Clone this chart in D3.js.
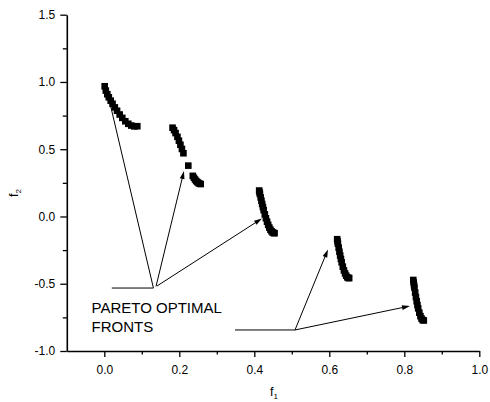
<!DOCTYPE html>
<html>
<head>
<meta charset="utf-8">
<script src="https://cdn.jsdelivr.net/npm/d3@7"></script>
<style>
  html, body { margin: 0; padding: 0; background: #fff; }
  svg { display: block; }
  text { font-family: "Liberation Sans", Arial, Helvetica, sans-serif; fill: #000; }
</style>
</head>
<body>
<svg id="chart" width="490" height="402"></svg>
<script>
// Pareto optimal fronts, one array per disconnected region: [f1, f2]
const front1 = [
  [0.001, 0.968], [0.004, 0.936], [0.008, 0.909], [0.012, 0.886], [0.017, 0.861],
  [0.022, 0.838], [0.028, 0.811], [0.034, 0.786], [0.041, 0.758], [0.048, 0.733],
  [0.056, 0.708], [0.064, 0.689], [0.072, 0.676], [0.080, 0.670], [0.088, 0.671]
];
const front2 = [
  [0.182, 0.660], [0.186, 0.642], [0.190, 0.620], [0.195, 0.592], [0.199, 0.563],
  [0.203, 0.533], [0.207, 0.502], [0.211, 0.470],
  [0.224, 0.378],
  [0.236, 0.302], [0.239, 0.288], [0.242, 0.275], [0.245, 0.264], [0.248, 0.256],
  [0.251, 0.249], [0.254, 0.244], [0.257, 0.241]
];
const front3 = [
  [0.413, 0.193], [0.414, 0.180], [0.415, 0.167], [0.417, 0.142], [0.419, 0.117],
  [0.421, 0.093], [0.423, 0.070], [0.425, 0.047], [0.428, 0.016], [0.431, -0.013],
  [0.434, -0.039], [0.437, -0.062], [0.440, -0.082], [0.443, -0.098], [0.446, -0.110],
  [0.449, -0.119], [0.452, -0.123], [0.454, -0.124]
];
const front4 = [
  [0.621, -0.169], [0.622, -0.185], [0.623, -0.202], [0.625, -0.232], [0.627, -0.262],
  [0.629, -0.290], [0.631, -0.316], [0.633, -0.341], [0.636, -0.373], [0.639, -0.401],
  [0.642, -0.423], [0.645, -0.440], [0.648, -0.452], [0.651, -0.457], [0.653, -0.458]
];
const front5 = [
  [0.824, -0.472], [0.825, -0.491], [0.826, -0.511], [0.827, -0.529], [0.829, -0.566],
  [0.831, -0.599], [0.833, -0.630], [0.835, -0.658], [0.837, -0.683], [0.840, -0.715],
  [0.843, -0.741], [0.846, -0.759], [0.849, -0.770], [0.852, -0.773]
];
const fronts = [front1, front2, front3, front4, front5];

// Axis ticks
const xMajorTicks = [0.0, 0.2, 0.4, 0.6, 0.8, 1.0];
const xMinorTicks = [0.1, 0.3, 0.5, 0.7, 0.9];
const yMajorTicks = [-1.0, -0.5, 0.0, 0.5, 1.0, 1.5];
const yMinorTicks = [-0.75, -0.25, 0.25, 0.75, 1.25];

// Annotation leader lines in data units: [from, to, arrowhead]
const leaders = [
  [[0.020, -0.532], [0.131, -0.532], false],
  [[0.131, -0.532], [0.0112, 0.888], false],
  [[0.1379, -0.520], [0.2125, 0.3382], true],
  [[0.1405, -0.5167], [0.4205, -0.0149], true],
  [[0.3485, -0.8437], [0.5085, -0.8437], false],
  [[0.5085, -0.8437], [0.5965, -0.2453], true],
  [[0.5085, -0.8437], [0.8152, -0.6653], true]
];
const noteLines = ["PARETO OPTIMAL", "FRONTS"];

const svg = d3.select("#chart");
const margin = { left: 66.8, top: 14.7, right: 10.7, bottom: 51 };
const W = 490, H = 402;

const x = d3.scaleLinear().domain([-0.1, 1.0]).range([margin.left, W - margin.right]);
const y = d3.scaleLinear().domain([-1.0, 1.5]).range([H - margin.bottom, margin.top]);

const fmt = d => d3.format(".1f")(d).replace("\u2212", "-");

// Minor ticks
svg.append("g")
  .attr("transform", `translate(0,${y(-1.0)})`)
  .call(d3.axisBottom(x).tickValues(xMinorTicks).tickSize(3.5).tickSizeOuter(0).tickFormat(""))
  .call(g => g.select(".domain").remove())
  .call(g => g.selectAll("line").attr("stroke", "#000").attr("stroke-width", 1.3));
svg.append("g")
  .attr("transform", `translate(${x(-0.1)},0)`)
  .call(d3.axisLeft(y).tickValues(yMinorTicks).tickSize(4).tickSizeOuter(0).tickFormat(""))
  .call(g => g.select(".domain").remove())
  .call(g => g.selectAll("line").attr("stroke", "#000").attr("stroke-width", 1.3));

// Major axes
const xAxis = svg.append("g")
  .attr("transform", `translate(0,${y(-1.0)})`)
  .call(d3.axisBottom(x).tickValues(xMajorTicks).tickSize(6).tickSizeOuter(0).tickPadding(8).tickFormat(fmt));
const yAxis = svg.append("g")
  .attr("transform", `translate(${x(-0.1)},0)`)
  .call(d3.axisLeft(y).tickValues(yMajorTicks).tickSize(6.5).tickSizeOuter(0).tickPadding(5).tickFormat(fmt));

[xAxis, yAxis].forEach(g => {
  g.select(".domain").attr("stroke", "#000").attr("stroke-width", 1.6);
  g.selectAll(".tick line").attr("stroke", "#000").attr("stroke-width", 1.3);
  g.selectAll(".tick text")
    .attr("fill", "#111")
    .style("font-family", "'Liberation Sans', Arial, sans-serif")
    .style("font-size", "12px");
});

// Axis titles
const xTitle = svg.append("text")
  .attr("x", 270)
  .attr("y", 396)
  .style("font-size", "12.5px");
xTitle.append("tspan").text("f");
xTitle.append("tspan").attr("dy", 3).style("font-size", "8px").text("1");

const yTitle = svg.append("text")
  .attr("transform", "translate(18,197) rotate(-90)")
  .style("font-size", "12.5px");
yTitle.append("tspan").text("f");
yTitle.append("tspan").attr("dy", 3).style("font-size", "8px").text("2");

// Leader lines with arrowheads
const lead = svg.append("g");
leaders.forEach(([a, b, head]) => {
  const x0 = x(a[0]), y0 = y(a[1]), x1 = x(b[0]), y1 = y(b[1]);
  const len = Math.hypot(x1 - x0, y1 - y0);
  const ux = (x1 - x0) / len, uy = (y1 - y0) / len;
  const hl = head ? 8 : 0, hw = 2.4;
  lead.append("line")
    .attr("x1", x0).attr("y1", y0)
    .attr("x2", x1 - ux * hl * 0.8).attr("y2", y1 - uy * hl * 0.8)
    .attr("stroke", "#000").attr("stroke-width", 1);
  if (head) {
    const bx = x1 - ux * hl, by = y1 - uy * hl;
    lead.append("path")
      .attr("d", `M${x1},${y1}L${bx - uy * hw},${by + ux * hw}L${bx + uy * hw},${by - ux * hw}Z`)
      .attr("fill", "#000");
  }
});

// Front markers
const markerSize = 6.6;
svg.append("g")
  .selectAll("g")
  .data(fronts)
  .join("g")
  .selectAll("rect")
  .data(d => d)
  .join("rect")
  .attr("x", d => x(d[0]) - markerSize / 2)
  .attr("y", d => y(d[1]) - markerSize / 2)
  .attr("width", markerSize)
  .attr("height", markerSize)
  .attr("fill", "#000");

// Annotation text
svg.append("text")
  .attr("x", 91.5)
  .attr("y", 313.3)
  .style("font-size", "15px")
  .selectAll("tspan")
  .data(noteLines)
  .join("tspan")
  .attr("x", 91.5)
  .attr("dy", (d, i) => i === 0 ? 0 : 19)
  .text(d => d);
</script>
</body>
</html>
